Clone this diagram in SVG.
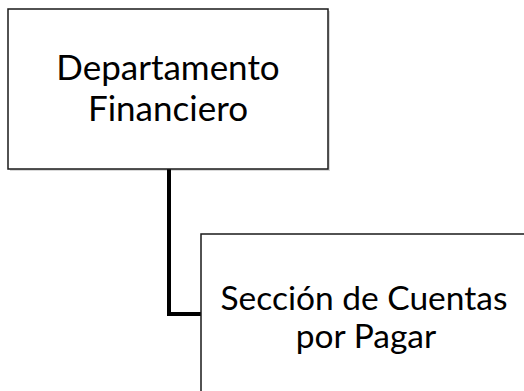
<svg xmlns="http://www.w3.org/2000/svg" width="524" height="391" viewBox="0 0 524 391">
  <defs>
    <style>
      .box { fill: #ffffff; stroke: #1a1a1a; stroke-width: 1.5; }
      .shadow { fill: #000000; opacity: 0.15; }
      .lbl { font-family: "Lato", "Liberation Sans", sans-serif; fill: #000000; text-anchor: middle; }
      .conn { fill: none; stroke: #000000; stroke-width: 4; stroke-linejoin: miter; }
    </style>
  </defs>
  <rect width="524" height="391" fill="#ffffff"/>
  <g id="connectors">
    <path class="conn" d="M169,169 V314 H201"/>
  </g>
  <g id="node-departamento">
    <rect class="shadow" x="10" y="11" width="320" height="160"/>
    <rect class="box" x="8" y="9" width="320" height="160"/>
    <text class="lbl" font-size="35" x="168" y="80">Departamento<tspan x="168" dy="41">Financiero</tspan></text>
  </g>
  <g id="node-seccion">
    <rect class="shadow" x="203" y="236" width="330" height="170"/>
    <rect class="box" x="201" y="234" width="330" height="170"/>
    <text class="lbl" font-size="33.5" x="364" y="310">Sección de Cuentas<tspan x="366" dy="38">por Pagar</tspan></text>
  </g>
</svg>
